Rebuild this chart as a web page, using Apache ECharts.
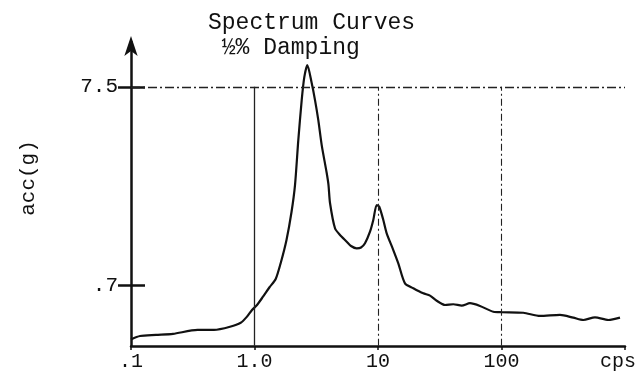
<!DOCTYPE html>
<html>
<head>
<meta charset="utf-8">
<script src="https://cdn.jsdelivr.net/npm/echarts@6/dist/echarts.min.js"></script>
<style>
html,body{margin:0;padding:0;background:#fff;}
#c{width:644px;height:385px;}
</style>
</head>
<body>
<div id="c"></div>
<script>
// ---- data ----
var freq = [0.1, 0.1183, 0.1594, 0.2188, 0.3455, 0.4699, 0.6333, 0.7732, 0.8697, 0.9546,
  1.048, 1.172, 1.323, 1.485, 1.639, 1.816, 1.994, 2.128, 2.263, 2.411,
  2.531, 2.677, 2.905, 3.090, 3.286, 3.501, 3.843, 3.974, 4.087, 4.486,
  4.924, 5.581, 6.046, 6.724, 7.284, 7.848, 8.615, 9.160, 9.761, 10.24,
  11.04, 11.76, 13.30, 14.60, 16.54, 19.31, 23.27, 26.37, 29.87, 34.87,
  40.72, 47.61, 55.56, 66.98, 85.83, 100.4, 150.2, 205.0, 297.6, 381.4,
  459.6, 571.6, 732.5, 911.0];
var acc = [0.369, 0.384, 0.389, 0.394, 0.413, 0.413, 0.429, 0.450, 0.484, 0.524,
  0.556, 0.614, 0.687, 0.758, 0.929, 1.207, 1.685, 2.324, 3.974, 6.402,
  8.42, 9.72, 7.84, 6.402, 5.04, 3.745, 2.682, 2.324, 1.876, 1.388,
  1.281, 1.183, 1.124, 1.093, 1.103, 1.161, 1.332, 1.532, 1.832, 1.795,
  1.532, 1.307, 1.071, 0.914, 0.720, 0.679, 0.639, 0.622, 0.585, 0.556,
  0.561, 0.552, 0.568, 0.550, 0.513, 0.510, 0.507, 0.488, 0.494, 0.478,
  0.465, 0.480, 0.465, 0.478];
var xTickValues = [0.1, 1, 10, 100, 1000];
var xTickLabels = ['.1', '1.0', '10', '100', 'cps'];
var yTickValues = [0.7, 7.5];
var yTickLabels = ['.7', '7.5'];
var gridX = [1, 10, 100];
var refY = 7.5;
var xMin = 0.1, xMax = 1000;
var yMin = 0.341, yMax = 12.8;

var FONT = '"Liberation Mono", "DejaVu Sans Mono", monospace';
var seriesData = freq.map(function (f, i) { return [f, acc[i]]; });

function xLabel(v) {
  var k = Math.round(Math.log10(v));
  for (var i = 0; i < xTickValues.length; i++) {
    if (Math.round(Math.log10(xTickValues[i])) === k) {
      return i === xTickValues.length - 1 ? '{c|' + xTickLabels[i] + '}' : xTickLabels[i];
    }
  }
  return '';
}
function yLabel(v) {
  for (var i = 0; i < yTickValues.length; i++) {
    if (Math.abs(Math.log10(yTickValues[i]) - v) < 1e-6) return yTickLabels[i];
  }
  return '';
}
var yLogTicks = yTickValues.map(function (v) { return Math.log10(v); });

var vLines = gridX.map(function (x, i) {
  return [{ coord: [x, yMin * 1.003], lineStyle: { type: i === 0 ? 'solid' : [7, 3, 2, 3], width: i === 0 ? 1.3 : 1.1 } },
          { coord: [x, refY] }];
});
var hLine = [[{ coord: [xMin, refY], lineStyle: { type: [9, 3, 2, 3], width: 1.3 } }, { coord: [xMax, refY] }]];

var chart = echarts.init(document.getElementById('c'), null, { renderer: 'canvas' });
chart.setOption({
  animation: false,
  backgroundColor: '#fff',
  title: {
    text: 'Spectrum Curves\n ½% Damping',
    left: 203, top: 5,
    textStyle: { fontFamily: FONT, fontSize: 23, fontWeight: 'normal', color: '#111', lineHeight: 25 }
  },
  graphic: [{
    type: 'text', x: 28, y: 178, rotation: Math.PI / 2,
    style: { text: 'acc(g)', font: '21px ' + FONT, fill: '#111', align: 'center', verticalAlign: 'middle' }
  }],
  grid: { left: 131, right: 19, top: 42, bottom: 39, containLabel: false },
  xAxis: {
    type: 'log', min: xMin, max: xMax, logBase: 10,
    axisLine: { show: true, onZero: false, lineStyle: { color: '#111', width: 2.5 } },
    axisTick: { show: true, length: 4, lineStyle: { color: '#111', width: 1.5 } },
    splitLine: { show: false },
    minorTick: { show: false },
    axisLabel: {
      formatter: xLabel, margin: 6, color: '#111', fontFamily: FONT, fontSize: 20,
      rich: { c: { fontFamily: FONT, fontSize: 20, color: '#111', padding: [0, 14, 0, 0] } }
    }
  },
  yAxis: [{
    type: 'log', min: yMin, max: yMax, logBase: 10,
    axisLine: { show: true, onZero: false, lineStyle: { color: '#111', width: 2.5 }, symbol: ['none', 'arrow'], symbolSize: [10, 20], symbolOffset: [0, 6] },
    axisTick: { show: false }, axisLabel: { show: false }, splitLine: { show: false }
  }, {
    type: 'value', min: Math.log10(yMin), max: Math.log10(yMax), position: 'left',
    axisLine: { show: false, onZero: false },
    axisTick: { show: true, customValues: yLogTicks, length: 13, inside: false, lineStyle: { color: '#111', width: 2.5 } },
    axisLabel: { show: true, customValues: yLogTicks, formatter: yLabel, margin: 13, color: '#111', fontFamily: FONT, fontSize: 21 },
    splitLine: { show: false }
  }, {
    type: 'value', min: Math.log10(yMin), max: Math.log10(yMax), position: 'left',
    axisLine: { show: false, onZero: false },
    axisTick: { show: true, customValues: yLogTicks, length: 14, inside: true, lineStyle: { color: '#111', width: 2.5 } },
    axisLabel: { show: false },
    splitLine: { show: false }
  }],
  series: [{
    type: 'line', xAxisIndex: 0, yAxisIndex: 0,
    data: seriesData, showSymbol: false, smooth: 0.25,
    lineStyle: { color: '#111', width: 2.2 },
    markLine: {
      silent: true, symbol: ['none', 'none'], label: { show: false },
      lineStyle: { color: '#222' },
      data: vLines.concat(hLine)
    }
  }]
});
</script>
</body>
</html>
